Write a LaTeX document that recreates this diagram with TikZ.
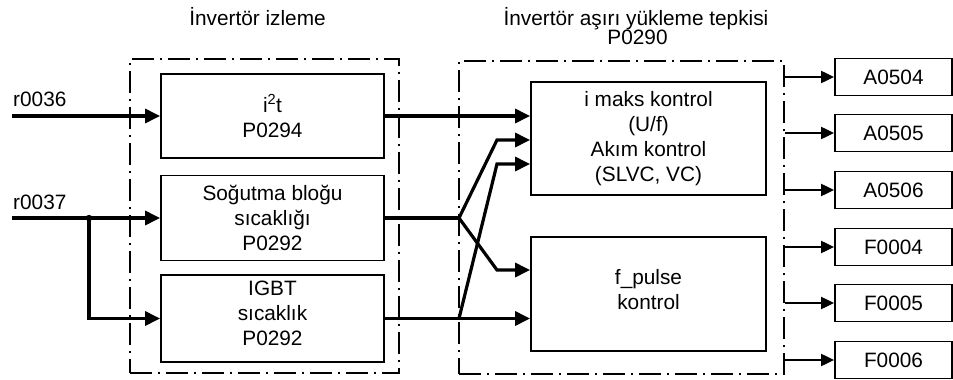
\documentclass[tikz,border=0pt]{standalone}
\usepackage{fontspec}
\setmainfont{Liberation Sans}
\usetikzlibrary{arrows.meta,calc}

\tikzset{
  txt/.style={font=\fontsize{20.8}{25}\selectfont, align=center, inner sep=0pt},
  blockbox/.style={txt, draw, line width=1.8pt},
  outbox/.style={txt, draw, line width=1.8pt, minimum width=117pt, minimum height=37pt},
  frame/.style={draw, line width=1.6pt, dash pattern=on 22pt off 6pt on 2pt off 6pt},
  sig/.style={line width=3.2pt, -{Triangle[length=15pt,width=14pt]}},
  sigline/.style={line width=3.2pt},
  outsig/.style={line width=2pt, -{Triangle[length=13pt,width=12pt]}},
}

\begin{document}
\begin{tikzpicture}[x=1pt,y=-1pt]
  \useasboundingbox (0,0) rectangle (953,380);

  % group frames
  \node[frame, minimum width=269pt, minimum height=314pt, inner sep=0pt] (mon) at (264.5,216) {};
  \node[frame, minimum width=325pt, minimum height=313pt, inner sep=0pt] (react) at (621.5,217.5) {};

  % titles
  \node[txt, anchor=base] (t1) at (257.5,25) {İnvertör izleme};
  \node[txt, anchor=base] (t2) at (636,25) {İnvertör aşırı yükleme tepkisi};
  \node[txt, anchor=base] (t3) at (637.5,44) {P0290};

  % monitoring blocks
  \node[blockbox, minimum width=223pt, minimum height=84pt] (i2t) at (272.5,116) {i\textsuperscript{2}t\\P0294};
  \node[blockbox, minimum width=223pt, minimum height=85pt] (sog) at (272.5,218) {Soğutma bloğu\\sıcaklığı\\P0292};
  \node[blockbox, minimum width=223pt, minimum height=87pt] (igbt) at (272.5,318.5) {IGBT\\sıcaklık\\P0292\\[-15pt]};

  % reaction blocks
  \node[blockbox, minimum width=235pt, minimum height=113pt] (imaks) at (648.5,138.5) {i maks kontrol\\(U/f)\\Akım kontrol\\(SLVC, VC)};
  \node[blockbox, minimum width=235pt, minimum height=114pt] (fpulse) at (648.5,294) {f\_pulse\\kontrol\\[-15pt]};

  % alarm / fault outputs
  \node[outbox] (a4) at (893.5,77) {A0504};
  \node[outbox] (a5) at (893.5,133) {A0505};
  \node[outbox] (a6) at (893.5,190) {A0506};
  \node[outbox] (f4) at (893.5,247) {F0004};
  \node[outbox] (f5) at (893.5,303) {F0005};
  \node[outbox] (f6) at (893.5,360) {F0006};

  % inputs
  \coordinate (in36) at (12,116);
  \coordinate (in37) at (12,218);
  \coordinate (j37) at (89,218);
  \node[txt, anchor=base west] (l36) at (13,106) {r0036};
  \node[txt, anchor=base west] (l37) at (13,209) {r0037};

  \draw[sig] (in36) -- (i2t.west);
  \draw[sig] (in37) -- (sog.west);
  \draw[sig] (j37) |- (igbt.west);
  \fill (j37) circle (3.2pt);

  % monitoring -> reaction
  \coordinate (bs) at (459,218);
  \coordinate (bi) at (459,318.5);
  \coordinate (ks1) at (497,140);
  \coordinate (ks2) at (497,270);
  \coordinate (ki) at (497,164);

  \draw[sig] (i2t.east) -- (imaks.west |- i2t.east);
  \draw[sigline] (sog.east) -- (bs);
  \draw[sig] (bs) -- (ks1) -- (imaks.west |- ks1);
  \draw[sig] (bs) -- (ks2) -- (fpulse.west |- ks2);
  \draw[sig] (igbt.east) -- (fpulse.west |- igbt.east);
  \draw[sig] (bi) -- (ki) -- (imaks.west |- ki);

  % reaction outputs
  \foreach \o in {a4,a5,a6,f4,f5,f6}
    \draw[outsig] (react.east |- \o.west) -- (\o.west);
\end{tikzpicture}
\end{document}
